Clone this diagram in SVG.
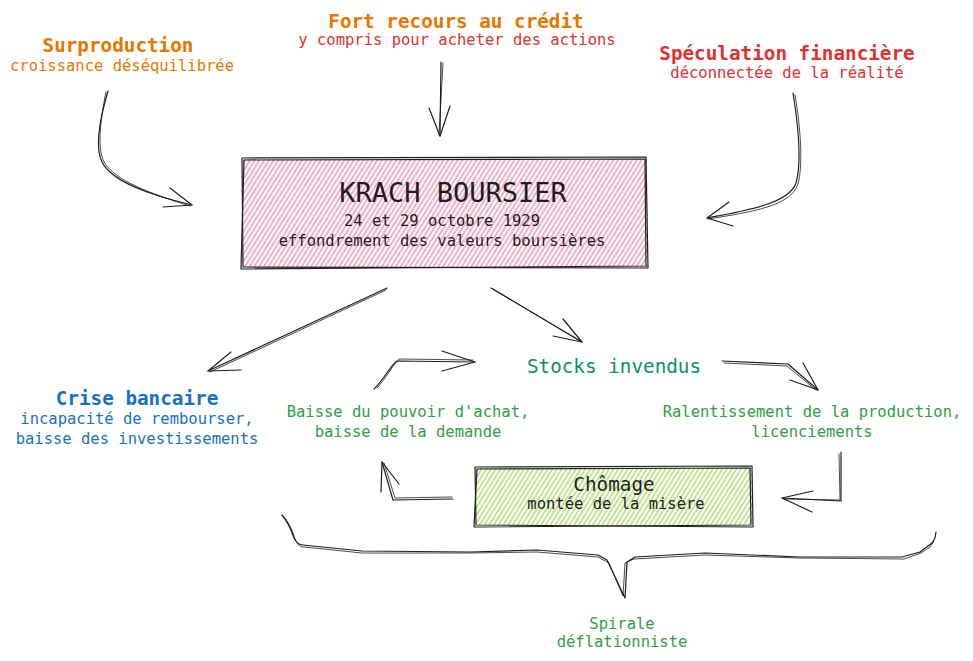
<svg xmlns="http://www.w3.org/2000/svg" width="973" height="661" viewBox="0 0 973 661">
<style>
text{font-family:"DejaVu Sans Mono","Liberation Mono",monospace;text-anchor:middle}
.t{font-size:19.3px}
.b{font-weight:bold}
.s{font-size:15.5px}
.big{font-size:27px}
.or{fill:#e67700}
.rd{fill:#e03131}
.bl{fill:#1971c2}
.gr{fill:#2f9e44}
.tl{fill:#099268}
.k{fill:#1e1e1e}
.ln{fill:none;stroke:#1e1e1e;stroke-width:1.2;stroke-linecap:round;stroke-linejoin:round}
.ln2{fill:none;stroke:#1e1e1e;stroke-width:0.8;stroke-linecap:round;stroke-linejoin:round}
.box{fill:none;stroke:#1e1e1e;stroke-width:1.2;stroke-linejoin:round}
</style>
<defs>
<pattern id="hPink" width="4" height="12" patternUnits="userSpaceOnUse" patternTransform="rotate(32)">
<line x1="1" y1="0" x2="1" y2="12" stroke="#e64980" stroke-width="1.1" stroke-opacity="0.8"/>
</pattern>
<pattern id="hGreen" width="4" height="12" patternUnits="userSpaceOnUse" patternTransform="rotate(32)">
<line x1="1" y1="0" x2="1" y2="12" stroke="#82c91e" stroke-width="1.1" stroke-opacity="0.9"/>
</pattern>
</defs>
<rect width="973" height="661" fill="#ffffff"/>

<g id="surproduction">
<text class="t b or" x="118" y="52">Surproduction</text>
<text class="s or" x="122" y="71">croissance déséquilibrée</text>
</g>

<g id="credit">
<text class="t b or" x="456" y="28">Fort recours au crédit</text>
<text class="s rd" x="457" y="45">y compris pour acheter des actions</text>
</g>

<g id="speculation">
<text class="t b rd" x="787" y="60">Spéculation financière</text>
<text class="s rd" x="787" y="78">déconnectée de la réalité</text>
</g>

<g id="krach">
<rect x="243" y="159" width="404" height="108" fill="url(#hPink)"/>
<path class="box" d="M242,158 L646,157 L648,268 L243,267 Z"/>
<path class="box" d="M244,160 L645,159 L646,266 L241,269 Z"/>
<text class="big k" x="453" y="202">KRACH BOURSIER</text>
<text class="s k" x="442" y="226">24 et 29 octobre 1929</text>
<text class="s k" x="442" y="246">effondrement des valeurs boursières</text>
</g>

<g id="crise">
<text class="t b bl" x="137" y="405">Crise bancaire</text>
<text class="s bl" x="137" y="424">incapacité de rembourser,</text>
<text class="s bl" x="137" y="444">baisse des investissements</text>
</g>

<g id="baisse">
<text class="s gr" x="408" y="417">Baisse du pouvoir d'achat,</text>
<text class="s gr" x="408" y="437">baisse de la demande</text>
</g>

<g id="stocks">
<text class="t tl" x="614" y="373">Stocks invendus</text>
</g>

<g id="ralentissement">
<text class="s gr" x="812" y="417">Ralentissement de la production,</text>
<text class="s gr" x="812" y="437">licenciements</text>
</g>

<g id="chomage">
<rect x="476" y="468" width="276" height="57" fill="url(#hGreen)"/>
<path class="box" d="M475,467 L752,466 L753,527 L476,525 Z"/>
<path class="box" d="M477,469 L750,468 L751,525 L474,527 Z"/>
<text class="t k" x="614" y="491">Chômage</text>
<text class="s k" x="616" y="509">montée de la misère</text>
</g>

<g id="spirale">
<text class="s gr" x="622" y="629">Spirale</text>
<text class="s gr" x="622" y="647">déflationniste</text>
</g>

<g id="connectors">
<path class="ln" d="M108,91 C98,125 96,150 102,162 C112,182 150,195 192,205"/>
<path class="ln2" d="M106,92 C99,125 98,150 104,162 C115,181 152,194 190,206"/>
<path class="ln" d="M170,188 L192,205 L163,207"/>
<path class="ln" d="M441,62 L440,136"/>
<path class="ln2" d="M443,63 L439,135"/>
<path class="ln" d="M429,108 L440,136 L450,106"/>
<path class="ln" d="M793,93 C799,130 801,165 796,183 C789,203 750,210 707,218"/>
<path class="ln2" d="M795,95 C801,130 803,165 798,184 C791,206 752,212 708,219"/>
<path class="ln" d="M729,202 L707,218 L733,226"/>
<path class="ln" d="M387,288 L208,371"/>
<path class="ln2" d="M386,290 L210,372"/>
<path class="ln" d="M231,352 L208,371 L241,370"/>
<path class="ln" d="M491,288 L582,342"/>
<path class="ln2" d="M493,289 L580,341"/>
<path class="ln" d="M563,319 L582,342 L553,336"/>
<path class="ln" d="M722,361 L788,364 L818,390"/>
<path class="ln2" d="M724,363 L787,366 L816,390"/>
<path class="ln" d="M803,363 L818,390 L790,380"/>
<path class="ln" d="M841,452 L841,501 L782,498"/>
<path class="ln2" d="M839,454 L840,500 L784,499"/>
<path class="ln" d="M813,491 L782,498 L812,512"/>
<path class="ln" d="M453,499 L393,500 L382,462"/>
<path class="ln2" d="M452,497 L395,498 L384,463"/>
<path class="ln" d="M399,484 L382,462 L381,492"/>
<path class="ln" d="M374,389 C385,378 390,366 397,361 L475,362"/>
<path class="ln2" d="M377,388 C387,377 392,366 399,359 L473,360"/>
<path class="ln" d="M442,351 L475,362 L442,371"/>
<path class="ln" d="M282,515 C288,522 292,532 294,538 C297,544 300,545 303,545 L362,551 L470,552 L537,550 L598,555 L607,560 L625,598 L627,562 L635,557 L705,553 L800,557 L902,557 L920,552 L928,546 L932,543 L935,538 L936,532"/>
<path class="ln2" d="M284,517 C290,524 293,533 295,539 C298,546 301,547 304,547 L362,553 L470,553 L537,552 L598,557 L609,563 L623,596 L625,563 L634,559 L705,555 L800,558 L904,559 L921,553 L930,547 L934,541"/>
</g>
</svg>
